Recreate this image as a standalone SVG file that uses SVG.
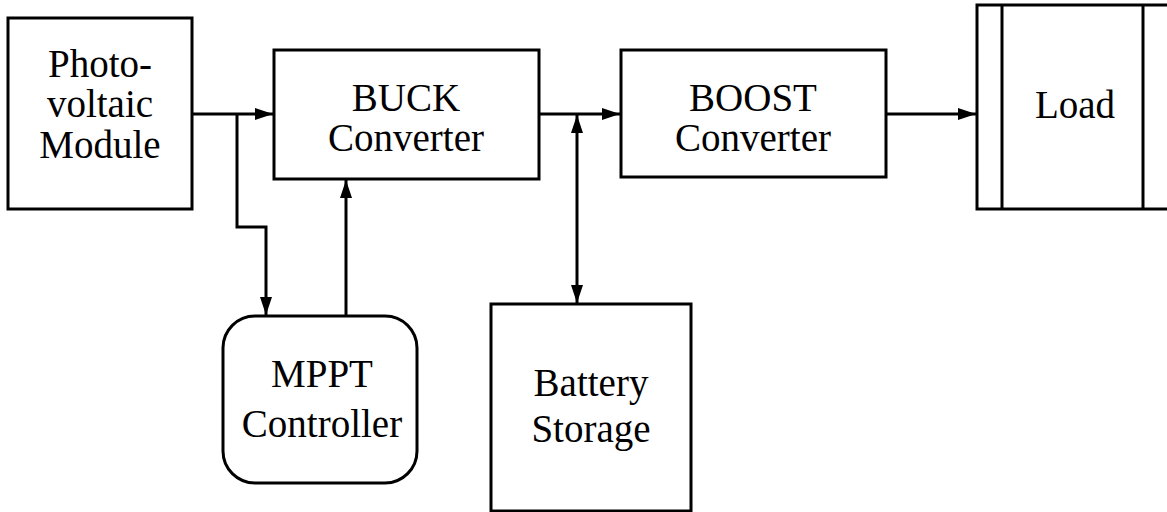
<svg xmlns="http://www.w3.org/2000/svg" width="1167" height="512" viewBox="0 0 1167 512">
<style>
.box{fill:#fff;stroke:#000;stroke-width:3}
.ln{fill:none;stroke:#000;stroke-width:3}
text{font-family:"Liberation Serif","Times New Roman",serif;font-size:39px;fill:#000;text-anchor:middle}
</style>
<defs>
<marker id="ah" viewBox="0 0 18 12" refX="18" refY="6" markerWidth="18" markerHeight="12" markerUnits="userSpaceOnUse" orient="auto-start-reverse">
<path d="M0,0 L18,6 L0,12 Z" fill="#000"/>
</marker>
</defs>
<rect width="1167" height="512" fill="#fff"/>
<g id="connectors">
<path class="ln" d="M192,114 H273" marker-end="url(#ah)"/>
<path class="ln" d="M237,114 V227 H266 V315" marker-end="url(#ah)"/>
<path class="ln" d="M346,316 V180" marker-end="url(#ah)"/>
<path class="ln" d="M539,114 H620" marker-end="url(#ah)"/>
<path class="ln" d="M577,115 V303" marker-start="url(#ah)" marker-end="url(#ah)"/>
<path class="ln" d="M886,114 H976" marker-end="url(#ah)"/>
</g>
<g id="pv">
<rect class="box" x="8" y="18" width="184" height="191"/>
<text x="100" y="77">Photo-</text>
<text x="100" y="117">voltaic</text>
<text x="100" y="158">Module</text>
</g>
<g id="buck">
<rect class="box" x="274" y="50" width="265" height="129"/>
<text x="406" y="111">BUCK</text>
<text x="406" y="151">Converter</text>
</g>
<g id="boost">
<rect class="box" x="621" y="50" width="265" height="127"/>
<text x="753" y="111">BOOST</text>
<text x="753" y="151">Converter</text>
</g>
<g id="load">
<rect class="box" x="977" y="5" width="200" height="204"/>
<line class="ln" x1="1002" y1="5" x2="1002" y2="209"/>
<line class="ln" x1="1143" y1="5" x2="1143" y2="209"/>
<text x="1075" y="118">Load</text>
</g>
<g id="mppt">
<rect class="box" x="223" y="316" width="194" height="167" rx="32" ry="32"/>
<text x="322" y="387">MPPT</text>
<text x="322" y="437">Controller</text>
</g>
<g id="battery">
<rect class="box" x="491" y="304" width="200" height="207"/>
<text x="591" y="396">Battery</text>
<text x="591" y="442">Storage</text>
</g>
</svg>
